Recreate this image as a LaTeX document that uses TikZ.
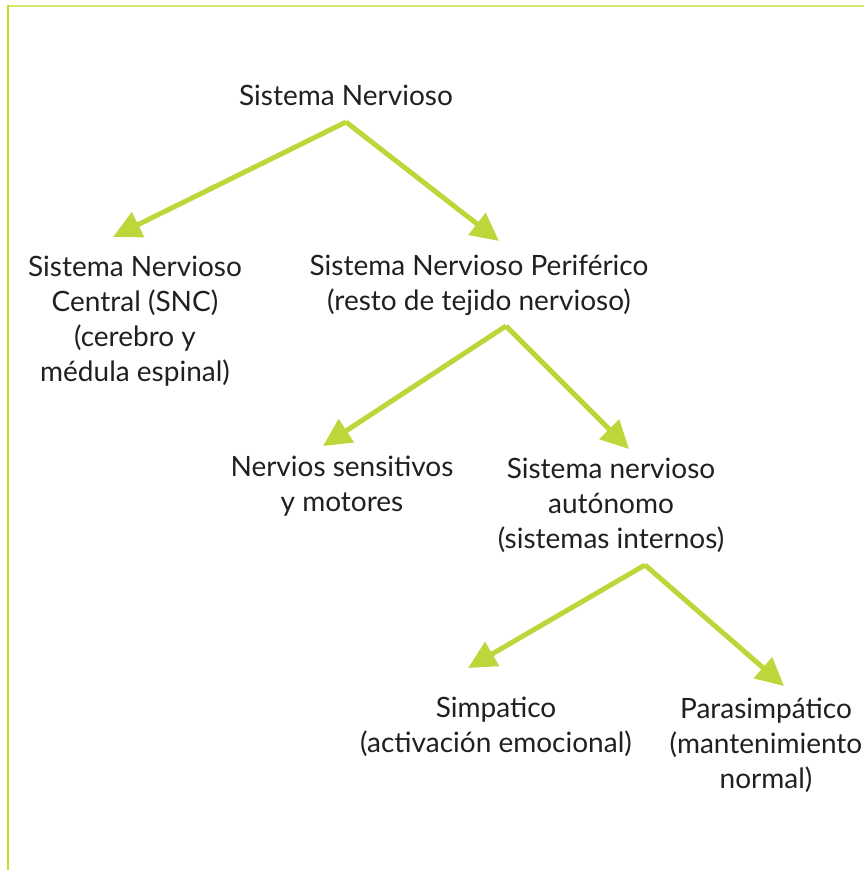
\documentclass[tikz,border=0pt]{standalone}
\usepackage{fontspec}
\setmainfont{Lato}
\usetikzlibrary{arrows.meta}
\definecolor{arrowgreen}{HTML}{BDD63A}
\definecolor{frametop}{HTML}{D9E46C}
\definecolor{frameleft}{HTML}{C5DC2A}
\definecolor{txt}{HTML}{231F20}
\tikzset{
  lbl/.style={inner sep=0pt, anchor=base, text=txt, align=center,
    font=\fontsize{28}{35}\selectfont},
  conn/.style={draw=arrowgreen, line width=5pt,
    -{Triangle[length=28pt,width=27pt]}, arrowgreen}
}
\begin{document}
\begin{tikzpicture}[x=1pt,y=-1pt]
\useasboundingbox (0,0) rectangle (864,870);
\draw[frametop, line width=2.5pt] (7,6) -- (864,6);
\draw[frameleft, line width=2.5pt] (8,5) -- (8,870);

% anchor=base is the baseline of the last line
\node[lbl] (sn) at (346,105) {Sistema Nervioso};
\node[lbl] (snc) at (135,381) {Sistema Nervioso\\Central (SNC)\\(cerebro y\\médula espinal)};
\node[lbl] (snp) at (479,310) {Sistema Nervioso Periférico\\(resto de tejido nervioso)};
\node[lbl] (nsm) at (342,511) {Nervios sensitivos\\y motores};
\node[lbl] (sna) at (611,548) {Sistema nervioso\\autónomo\\(sistemas internos)};
\node[lbl] (sim) at (496,752) {Simpatico\\(activación emocional)};
\node[lbl] (par) at (766,788) {Parasimpático\\(mantenimiento\\normal)};

\coordinate (a1) at (346,122);
\coordinate (t1) at (113,237);
\coordinate (t2) at (499,241);
\coordinate (a2) at (506,326);
\coordinate (t3) at (323,446);
\coordinate (t4) at (629,449);
\coordinate (a3) at (645,565);
\coordinate (t5) at (468,668);
\coordinate (t6) at (784,686);

\draw[conn] (a1) -- (t1);
\draw[conn] (a1) -- (t2);
\draw[conn] (a2) -- (t3);
\draw[conn] (a2) -- (t4);
\draw[conn] (a3) -- (t5);
\draw[conn] (a3) -- (t6);
\end{tikzpicture}
\end{document}
